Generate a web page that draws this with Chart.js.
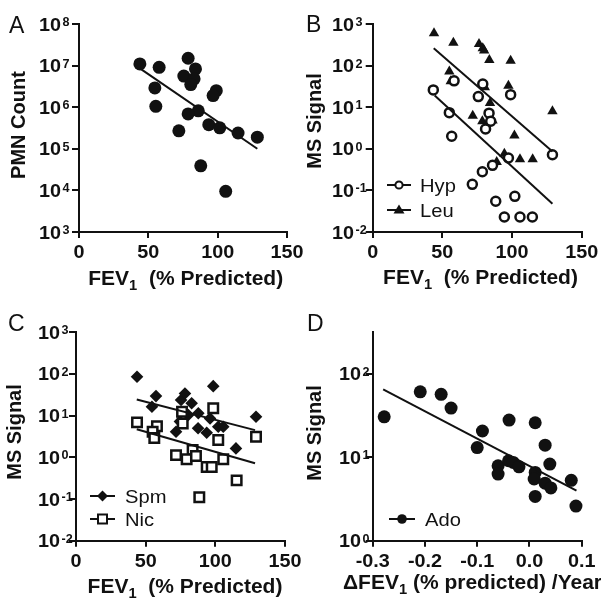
<!DOCTYPE html>
<html>
<head>
<meta charset="utf-8">
<script src="https://cdn.jsdelivr.net/npm/chart.js@4/dist/chart.umd.min.js"></script>
<style>
  body { margin: 0; background: #fff; }
  #wrap { position: relative; width: 601px; height: 598px; }
  #wrap canvas { position: absolute; left: 0; top: 0; }
</style>
</head>
<body>
<div id="wrap">
  <canvas id="pA" width="601" height="598"></canvas>
  <canvas id="pB" width="601" height="598"></canvas>
  <canvas id="pC" width="601" height="598"></canvas>
  <canvas id="pD" width="601" height="598"></canvas>
</div>
<script>
// ---- datos ----
// A: PMN count vs FEV1
const fevA = [43.9, 57.8, 78.7, 84, 75.6, 83, 80.6, 54.7, 99, 96.7, 55.4, 86, 78.7, 93.6, 101.5, 72, 114.7, 128.6, 87.8, 105.8];
const pmnA = [1.1e7, 9.1e6, 1.5e7, 8.3e6, 5.6e6, 4.8e6, 3.5e6, 2.9e6, 2.5e6, 1.9e6, 1.05e6, 8.2e5, 6.9e5, 3.8e5, 3.2e5, 2.7e5, 2.4e5, 1.9e5, 3.9e4, 9.5e3];
const fitAx = [43.9, 128.6];
const fitAy = [8.6e6, 1.0e5];

// B: Hyp / Leu
const fevHyp = [43.5, 55, 56.7, 58.4, 79, 75.8, 83.5, 84.7, 81, 99, 97.4, 129, 86, 78.7, 71.5, 88.3, 102, 94.5, 105.7, 114.6];
const hyp = [26, 7.4, 2.0, 43, 36, 18, 7.2, 4.6, 3.0, 20, 0.6, 0.72, 0.4, 0.28, 0.14, 0.055, 0.072, 0.023, 0.023, 0.023];
const fevLeu = [44, 57.9, 76.3, 79, 80, 83.7, 99, 55, 56, 97.4, 80.5, 84.2, 71.8, 78.7, 86, 129, 101.7, 94.5, 89, 105.7, 114.8];
const leu = [600, 355, 330, 260, 230, 137, 130, 72, 42, 33, 30, 12.6, 6.2, 4.6, 4.8, 8, 2.1, 0.76, 0.48, 0.56, 0.56];
const fitLeuX = [43.8, 129];
const fitLeuY = [261, 0.86];
const fitHypX = [44.5, 129];
const fitHypY = [19, 0.048];

// C: Spm / Nic
const fevSpm = [43.8, 57.4, 54.5, 71.8, 75.4, 78.2, 83, 98.5, 80.6, 87.8, 96.2, 102.1, 105.7, 93.8, 87.6, 74.6, 129.2, 114.8];
const spm = [86, 29.5, 16.4, 4.1, 23.7, 34, 19.8, 51, 10.4, 11.4, 8.6, 5.4, 5.4, 3.9, 5.0, 7.2, 9.4, 1.64];
const fevNic = [43.8, 58.1, 55, 56.2, 71.8, 76.1, 76.6, 98.5, 102.1, 129.2, 83.7, 79.4, 86.1, 105.7, 93.8, 97.4, 115.3, 88.5];
const nic = [6.9, 5.6, 4.1, 2.9, 1.13, 12.4, 6.5, 15, 2.6, 3.1, 1.5, 0.9, 1.08, 0.9, 0.59, 0.59, 0.28, 0.11];
const fitSpmX = [43.6, 128.5];
const fitSpmY = [24.5, 4.5];
const fitNicX = [43.6, 128.5];
const fitNicY = [4.7, 0.72];

// D: Ado vs cambio de FEV1
const dFev = [-0.278, -0.209, -0.169, -0.15, -0.1, -0.09, -0.039, 0.011, 0.03, -0.06, -0.06, -0.04, -0.031, -0.02, 0.011, 0.009, 0.011, 0.03, 0.041, 0.039, 0.08, 0.089];
const ado = [30.6, 61, 57, 39, 13.1, 20.7, 28, 26, 14, 7.9, 6.3, 9.1, 8.7, 7.7, 6.6, 5.5, 3.4, 4.9, 4.3, 8.3, 5.3, 2.6];
const fitDx = [-0.28, 0.09];
const fitDy = [65.5, 4.0];

// ticks
const fevTicks = [0, 50, 100, 150];
const dTicks = [-0.3, -0.2, -0.1, 0.0, 0.1];
const pmnTicks = [1e3, 1e4, 1e5, 1e6, 1e7, 1e8];
const msTicks = [1e-2, 1e-1, 1e0, 1e1, 1e2, 1e3];
const adoTicks = [1, 10, 100];

const FAM = "Arial, 'Liberation Sans', Helvetica, sans-serif";
const INK = "#111";

function drawText(ctx, s, x, y, font, align, sx) {
    ctx.save();
    ctx.font = font;
    const w = ctx.measureText(s).width * sx;
    let x0 = x;
    if (align === "center") x0 = x - w / 2;
    else if (align === "right") x0 = x - w;
    ctx.translate(x0, y);
    ctx.scale(sx, 1);
    ctx.textAlign = "left";
    ctx.textBaseline = "alphabetic";
    ctx.fillText(s, 0, 0);
    ctx.restore();
    return w;
}

function drawMarker(ctx, style, x, y) {
    ctx.save();
    ctx.fillStyle = INK;
    ctx.strokeStyle = INK;
    ctx.lineWidth = 2;
    ctx.beginPath();
    if (style === "dot") {
        ctx.arc(x, y, 4.8, 0, Math.PI * 2);
        ctx.fill();
    } else if (style === "ring") {
        ctx.arc(x, y, 3.6, 0, Math.PI * 2);
        ctx.fillStyle = "#fff";
        ctx.fill();
        ctx.stroke();
    } else if (style === "tri") {
        ctx.moveTo(x, y - 5.5);
        ctx.lineTo(x + 5.5, y + 3.5);
        ctx.lineTo(x - 5.5, y + 3.5);
        ctx.closePath();
        ctx.fill();
    } else if (style === "dia") {
        ctx.moveTo(x, y - 5.5);
        ctx.lineTo(x + 5.5, y);
        ctx.lineTo(x, y + 5.5);
        ctx.lineTo(x - 5.5, y);
        ctx.closePath();
        ctx.fill();
    } else if (style === "sq") {
        ctx.rect(x - 4.5, y - 4.5, 9, 9);
        ctx.fillStyle = "#fff";
        ctx.fill();
        ctx.stroke();
    }
    ctx.restore();
}

// textos de cada panel (ticks con exponente, titulos, letra, leyenda)
function panelText(p) {
    return {
        id: "panelText",
        afterDraw(chart) {
            const ctx = chart.ctx;
            const xs = chart.scales.x;
            const ys = chart.scales.y;
            const area = chart.chartArea;
            ctx.save();
            ctx.fillStyle = INK;

            ys.ticks.forEach(t => {
                const y = ys.getPixelForValue(t.value);
                const e = Math.round(Math.log10(t.value));
                const w = drawText(ctx, "10", p.yLabelX, y + 6.5, "bold 18px " + FAM, "left", 1.1);
                drawText(ctx, String(e), p.yLabelX + w + 1.5, y + 2, "bold 12px " + FAM, "left", 1.05);
            });

            xs.ticks.forEach(t => {
                const s = p.decimals ? t.value.toFixed(1) : String(t.value);
                drawText(ctx, s, xs.getPixelForValue(t.value), area.bottom + 26, "bold 18px " + FAM, "center", 1.1);
            });

            // titulo eje x con subindice
            const runs = p.xTitle;
            let total = 0;
            const widths = runs.map(r => {
                ctx.font = (r[1] ? "bold 14px " : "bold 20px ") + FAM;
                const w = ctx.measureText(r[0]).width * 1.05;
                total += w;
                return w;
            });
            let x = p.xTitleAlign === "left" ? p.xTitleX : p.xTitleX - total / 2;
            runs.forEach((r, i) => {
                drawText(ctx, r[0], x, p.xTitleY + (r[1] ? 5 : 0), (r[1] ? "bold 14px " : "bold 20px ") + FAM, "left", 1.05);
                x += widths[i];
            });

            // titulo eje y
            ctx.save();
            ctx.translate(p.yTitleX, p.yTitleY);
            ctx.rotate(-Math.PI / 2);
            ctx.font = "bold 20px " + FAM;
            ctx.textAlign = "center";
            ctx.textBaseline = "middle";
            ctx.fillText(p.yTitle, 0, 0);
            ctx.restore();

            drawText(ctx, p.letter, p.letterX, p.letterY, "23px " + FAM, "left", 1);

            p.legend.forEach(it => {
                ctx.save();
                ctx.strokeStyle = INK;
                ctx.lineWidth = 2;
                ctx.beginPath();
                ctx.moveTo(p.legX1, it.y);
                ctx.lineTo(p.legX2, it.y);
                ctx.stroke();
                ctx.restore();
                drawMarker(ctx, it.style, (p.legX1 + p.legX2) / 2, it.y);
                drawText(ctx, it.label, p.legTX, it.y + 6.5, "18px " + FAM, "left", 1.12);
            });
            ctx.restore();
        }
    };
}

function pts(xs, ys) {
    return xs.map((x, i) => ({ x: x, y: ys[i] }));
}

function fitSet(xs, ys) {
    return {
        data: pts(xs, ys),
        showLine: true,
        borderColor: INK,
        borderWidth: 2,
        pointRadius: 0,
        fill: false,
        clip: false
    };
}

function markSet(xs, ys, style, radius, filled) {
    return {
        data: pts(xs, ys),
        pointStyle: style,
        pointRadius: radius,
        pointHoverRadius: radius,
        backgroundColor: filled ? INK : "#fff",
        borderColor: INK,
        borderWidth: filled ? 0 : 2.5,
        clip: false
    };
}

function axisStyle(tickLen) {
    return {
        grid: { display: true, drawOnChartArea: false, drawTicks: true, tickLength: tickLen, color: INK, lineWidth: 2 },
        border: { display: true, color: INK, width: 2 },
        ticks: { display: false }
    };
}

// caja del area de trazado: left, right, top, bottom
function makePanel(id, box, xCfg, yCfg, datasets, text) {
    const YW = 30, XH = 40;
    const xs = Object.assign(axisStyle(6), {
        type: "linear",
        min: xCfg.min,
        max: xCfg.max,
        afterBuildTicks: s => { s.ticks = xCfg.ticks.map(v => ({ value: v })); },
        afterFit: s => { s.height = XH; }
    });
    const ys = Object.assign(axisStyle(7), {
        type: "logarithmic",
        min: yCfg.min,
        max: yCfg.max,
        afterBuildTicks: s => { s.ticks = yCfg.ticks.map(v => ({ value: v })); },
        afterFit: s => { s.width = YW; }
    });
    return new Chart(document.getElementById(id), {
        type: "scatter",
        data: { datasets: datasets },
        options: {
            responsive: false,
            animation: false,
            devicePixelRatio: 1,
            events: [],
            layout: {
                padding: {
                    left: box[0] - YW,
                    right: 601 - box[1],
                    top: box[2],
                    bottom: 598 - box[3] - XH
                }
            },
            plugins: { legend: { display: false }, tooltip: { enabled: false } },
            scales: { x: xs, y: ys }
        },
        plugins: [panelText(text)]
    });
}

const fevTitle = [["FEV", 0], ["1", 1], ["  (% Predicted)", 0]];

makePanel("pA", [79, 287, 24, 232],
    { min: 0, max: 150, ticks: fevTicks },
    { min: 1e3, max: 1e8, ticks: pmnTicks },
    [fitSet(fitAx, fitAy), markSet(fevA, pmnA, "circle", 6.5, true)],
    { yLabelX: 39, xTitle: fevTitle, xTitleX: 185.7, xTitleY: 285, yTitle: "PMN Count", yTitleX: 19, yTitleY: 125,
      letter: "A", letterX: 9, letterY: 33, legend: [] });

makePanel("pB", [372.7, 581.7, 24, 232],
    { min: 0, max: 150, ticks: fevTicks },
    { min: 1e-2, max: 1e3, ticks: msTicks },
    [fitSet(fitLeuX, fitLeuY), fitSet(fitHypX, fitHypY),
     markSet(fevHyp, hyp, "circle", 4.5, false), markSet(fevLeu, leu, "triangle", 6, true)],
    { yLabelX: 332, xTitle: fevTitle, xTitleX: 480.5, xTitleY: 284, yTitle: "MS Signal", yTitleX: 315, yTitleY: 121,
      letter: "B", letterX: 306, letterY: 32, legX1: 387, legX2: 411, legTX: 420,
      legend: [{ y: 185, style: "ring", label: "Hyp" }, { y: 210, style: "tri", label: "Leu" }] });

makePanel("pC", [76, 285, 332.3, 540.7],
    { min: 0, max: 150, ticks: fevTicks },
    { min: 1e-2, max: 1e3, ticks: msTicks },
    [fitSet(fitSpmX, fitSpmY), fitSet(fitNicX, fitNicY),
     markSet(fevNic, nic, "rect", 6.7, false), markSet(fevSpm, spm, "rectRot", 6.3, true)],
    { yLabelX: 38, xTitle: fevTitle, xTitleX: 185, xTitleY: 593, yTitle: "MS Signal", yTitleX: 15, yTitleY: 432,
      letter: "C", letterX: 8, letterY: 331, legX1: 90, legX2: 115, legTX: 125,
      legend: [{ y: 496, style: "dia", label: "Spm" }, { y: 519, style: "sq", label: "Nic" }] });

makePanel("pD", [372.7, 581.7, 332.3, 540.7],
    { min: -0.3, max: 0.1, ticks: dTicks },
    { min: 1, max: Math.pow(10, 2.5), ticks: adoTicks },
    [fitSet(fitDx, fitDy), markSet(dFev, ado, "circle", 6.5, true)],
    { yLabelX: 339, decimals: true, xTitle: [["\u0394FEV", 0], ["1", 1], [" (% predicted) /Year", 0]], xTitleAlign: "left",
      xTitleX: 343, xTitleY: 589, yTitle: "MS Signal", yTitleX: 315, yTitleY: 433,
      letter: "D", letterX: 307, letterY: 331, legX1: 389, legX2: 415, legTX: 425,
      legend: [{ y: 519, style: "dot", label: "Ado" }] });
</script>
</body>
</html>
